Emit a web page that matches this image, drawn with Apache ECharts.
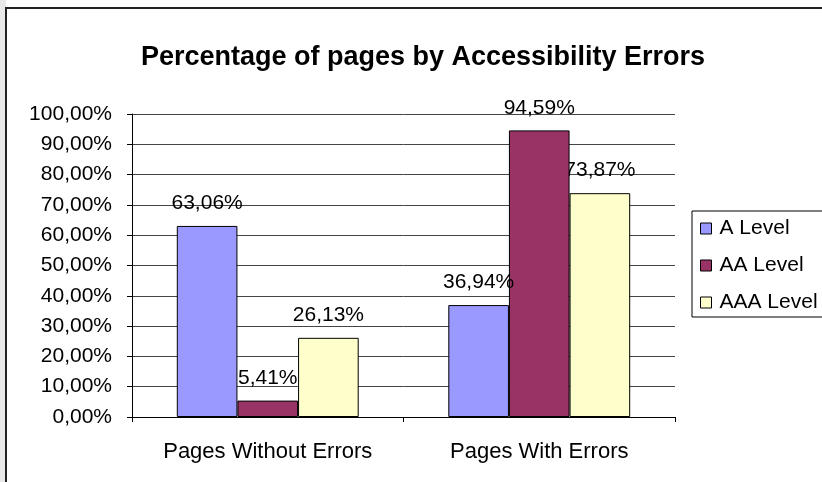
<!DOCTYPE html>
<html>
<head>
<meta charset="utf-8">
<script src="https://cdn.jsdelivr.net/npm/echarts@6/dist/echarts.min.js"></script>
<style>
html,body{margin:0;padding:0;background:#fff;}
#c{width:822px;height:482px;}
</style>
</head>
<body>
<div id="c"></div>
<script>
const chartTitle = 'Percentage of pages by Accessibility Errors';
const categories = ['Pages Without Errors', 'Pages With Errors'];
const seriesNames = ['A Level', 'AA Level', 'AAA Level'];
const aLevel = [63.06, 36.94];
const aaLevel = [5.41, 94.59];
const aaaLevel = [26.13, 73.87];
const yMin = 0, yMax = 100, yStep = 10;

const FONT = '"Liberation Sans", Arial, sans-serif';
const colors = ['#9999FF', '#993366', '#FFFFCC'];
const fmt = v => Number(v).toFixed(2).replace('.', ',') + '%';

const chart = echarts.init(document.getElementById('c'), null, {renderer: 'canvas'});
const seriesData = [aLevel, aaLevel, aaaLevel];
const zs = [5, 4, 3];

chart.setOption({
  backgroundColor: '#fff',
  animation: false,
  textStyle: {fontFamily: FONT},
  graphic: [
    {type: 'rect', shape: {x: 0, y: 0, width: 6, height: 482}, style: {fill: '#e9e9e9'}, z: 0, silent: true},
    {type: 'line', shape: {x1: 5, y1: 8, x2: 822, y2: 8}, style: {stroke: '#222', lineWidth: 2}, z: 10, silent: true},
    {type: 'line', shape: {x1: 6, y1: 8, x2: 6, y2: 482}, style: {stroke: '#222', lineWidth: 2}, z: 10, silent: true},
    {type: 'text', x: 423, y: 58, style: {text: chartTitle, font: 'bold 27px ' + FONT, fill: '#000', textAlign: 'center', textVerticalAlign: 'middle'}, z: 10, silent: true}
  ],
  grid: {left: 132, right: 147, top: 114, bottom: 65, containLabel: false},
  legend: {
    orient: 'vertical',
    left: 692,
    top: 211,
    padding: [7, 14, 4, 8],
    itemGap: 16,
    itemWidth: 11,
    itemHeight: 11,
    icon: 'rect',
    borderColor: '#000',
    borderWidth: 1,
    borderRadius: 0,
    backgroundColor: '#fff',
    data: seriesNames,
    itemStyle: {borderColor: '#000', borderWidth: 1},
    textStyle: {fontSize: 21, color: '#000', fontFamily: FONT, padding: [0, 0, 0, 3]}
  },
  xAxis: {
    type: 'category',
    data: categories,
    axisLine: {lineStyle: {color: '#000', width: 1}},
    axisTick: {show: true, length: 5, lineStyle: {color: '#000'}},
    axisLabel: {interval: 0, hideOverlap: false, fontSize: 22, color: '#000', margin: 24, fontFamily: FONT},
    splitLine: {show: false}
  },
  yAxis: {
    type: 'value',
    min: yMin, max: yMax, interval: yStep,
    axisLine: {show: true, lineStyle: {color: '#000', width: 1}},
    axisTick: {show: true, length: 5, lineStyle: {color: '#000'}},
    axisLabel: {fontSize: 21, color: '#000', margin: 20, formatter: fmt, fontFamily: FONT},
    splitLine: {show: true, lineStyle: {color: '#444', width: 1}}
  },
  series: seriesNames.map((name, i) => ({
    name: name,
    type: 'bar',
    data: seriesData[i],
    z: zs[i],
    barGap: '0%',
    barCategoryGap: '33%',
    itemStyle: {color: colors[i], borderColor: '#000', borderWidth: 1},
    label: {show: true, position: 'top', distance: 12, formatter: p => fmt(p.value), fontSize: 21, color: '#000', fontFamily: FONT}
  }))
});
</script>
</body>
</html>
